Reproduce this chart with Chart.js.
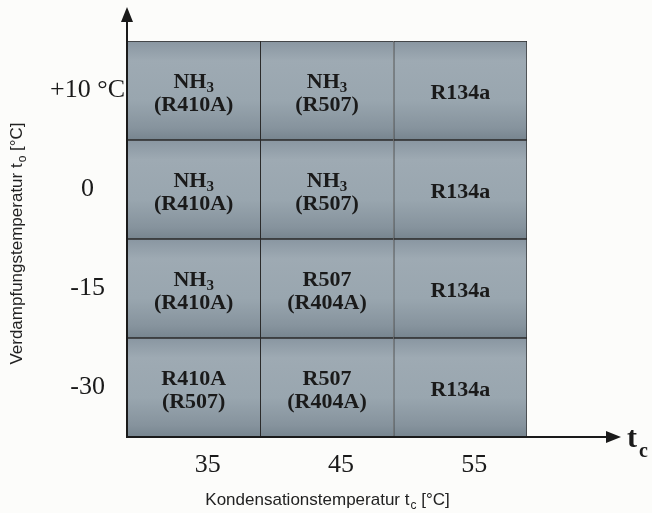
<!DOCTYPE html>
<html>
<head>
<meta charset="utf-8">
<script src="https://cdn.jsdelivr.net/npm/chart.js@4/dist/chart.umd.min.js"></script>
<style>
  html, body { margin: 0; padding: 0; background: #fcfcfa; }
  #wrap { width: 652px; height: 513px; position: relative; }
</style>
</head>
<body>
<div id="wrap"><canvas id="c"></canvas></div>
<script>
// Kondensationstemperatur (x) und Verdampfungstemperatur (y, von unten nach oben)
const tcLabels = ["35", "45", "55"]
const toLabels = ["-30", "-15", "0", "+10 °C"]

// jede Zelle ist genau eine Zeile hoch
const cellSpan = [1, 1, 1]

// Kältemittel je Zeile (unten -> oben), "_" = Index
const rowMain = [
  ["R410A", "R507", "R134a"],
  ["NH_3", "R507", "R134a"],
  ["NH_3", "NH_3", "R134a"],
  ["NH_3", "NH_3", "R134a"]
]
const rowAlt = [
  ["(R507)", "(R404A)", ""],
  ["(R410A)", "(R404A)", ""],
  ["(R410A)", "(R507)", ""],
  ["(R410A)", "(R507)", ""]
]

const INK = "#1a1a1a"
const SERIF = "'Liberation Serif', 'Times New Roman', serif"
const SANS = "'Liberation Sans', Arial, sans-serif"

function cellFill(ctx) {
  const chart = ctx.chart
  const y = chart.scales.y
  if (!y || !chart.chartArea) return "#95a2ac"
  const top = y.getPixelForValue(ctx.datasetIndex + 1)
  const bot = y.getPixelForValue(ctx.datasetIndex)
  const g = chart.ctx.createLinearGradient(0, top, 0, bot)
  g.addColorStop(0, "#8996a1")
  g.addColorStop(0.2, "#9eaab3")
  g.addColorStop(0.6, "#99a6af")
  g.addColorStop(0.88, "#86939d")
  g.addColorStop(1, "#77858f")
  return g
}

// Text mit Index (z.B. NH_3) zentriert zeichnen
function drawSub(c, text, x, y, size, subSize, subDrop) {
  const parts = text.split("_")
  c.font = `bold ${size}px ${SERIF}`
  const w1 = c.measureText(parts[0]).width
  let w2 = 0
  if (parts[1]) {
    c.font = `bold ${subSize}px ${SERIF}`
    w2 = c.measureText(parts[1]).width
  }
  const x0 = x - (w1 + w2) / 2
  c.textAlign = "left"
  c.font = `bold ${size}px ${SERIF}`
  c.fillText(parts[0], x0, y)
  if (parts[1]) {
    c.font = `bold ${subSize}px ${SERIF}`
    c.fillText(parts[1], x0 + w1, y + subDrop)
  }
}

const cellText = {
  id: "cellText",
  afterDatasetsDraw(chart) {
    const c = chart.ctx
    c.save()
    c.fillStyle = INK
    c.textBaseline = "alphabetic"
    chart.data.datasets.forEach((ds, r) => {
      chart.getDatasetMeta(r).data.forEach((bar, i) => {
        const cx = bar.x
        const cy = (bar.y + bar.base) / 2
        const main = rowMain[r][i]
        const alt = rowAlt[r][i]
        if (alt) {
          drawSub(c, main, cx, cy - 3, 22, 15, 4)
          drawSub(c, alt, cx, cy + 20, 22, 15, 4)
        } else {
          drawSub(c, main, cx, cy + 8, 22, 15, 4)
        }
      })
    })
    c.restore()
  }
}

const axesArrows = {
  id: "axesArrows",
  afterDraw(chart) {
    const { left, bottom } = chart.chartArea
    const c = chart.ctx
    c.save()
    c.strokeStyle = INK
    c.fillStyle = INK
    c.lineWidth = 2
    c.beginPath()
    c.moveTo(left, bottom)
    c.lineTo(left, 20)
    c.moveTo(left - 1, bottom)
    c.lineTo(608, bottom)
    c.stroke()
    c.beginPath()
    c.moveTo(left, 7)
    c.lineTo(left - 6, 22)
    c.lineTo(left + 6, 22)
    c.closePath()
    c.fill()
    c.beginPath()
    c.moveTo(621, bottom)
    c.lineTo(606, bottom - 6)
    c.lineTo(606, bottom + 6)
    c.closePath()
    c.fill()

    // t_c am Pfeil
    c.textBaseline = "alphabetic"
    c.textAlign = "left"
    c.font = `bold 30px ${SERIF}`
    c.fillText("t", 627, 447)
    c.font = `bold 20px ${SERIF}`
    c.fillText("c", 639, 457)

    // Achsentitel
    const title = (pre, sub, post) => {
      c.font = `17px ${SANS}`
      const a = c.measureText(pre).width
      const p = c.measureText(post).width
      c.font = `12px ${SANS}`
      const s = c.measureText(sub).width
      return { a, s, w: a + s + p }
    }
    const drawTitle = (pre, sub, post, m) => {
      let x = -m.w / 2
      c.font = `17px ${SANS}`
      c.fillText(pre, x, 0)
      c.font = `12px ${SANS}`
      c.fillText(sub, x + m.a + 1, 4)
      c.font = `17px ${SANS}`
      c.fillText(post, x + m.a + m.s + 1, 0)
    }
    c.fillStyle = "#222"
    const mx = title("Kondensationstemperatur t", "c", " [°C]")
    c.save()
    c.translate(327, 505)
    drawTitle("Kondensationstemperatur t", "c", " [°C]", mx)
    c.restore()
    const my = title("Verdampfungstemperatur t", "o", " [°C]")
    c.save()
    c.translate(22, 244)
    c.rotate(-Math.PI / 2)
    drawTitle("Verdampfungstemperatur t", "o", " [°C]", my)
    c.restore()
    c.restore()
  }
}

new Chart(document.getElementById("c"), {
  type: "bar",
  data: {
    labels: tcLabels,
    datasets: toLabels.map((t, r) => ({
      label: t,
      data: cellSpan,
      backgroundColor: cellFill,
      borderColor: "#2b2b2b",
      borderWidth: (ctx) => ({ top: 1, bottom: 1, left: 1, right: ctx.dataIndex === tcLabels.length - 1 ? 1 : 0 }),
      borderSkipped: false,
      barPercentage: 1,
      categoryPercentage: 1
    }))
  },
  options: {
    responsive: true,
    maintainAspectRatio: false,
    animation: false,
    layout: { padding: { top: 41, right: 125, left: 0, bottom: 0 } },
    plugins: {
      legend: { display: false },
      tooltip: { enabled: false }
    },
    scales: {
      x: {
        type: "category",
        stacked: true,
        grid: { display: false },
        border: { display: false },
        afterFit: (s) => { s.height = 76 },
        ticks: {
          color: INK,
          font: { family: SERIF, size: 26 },
          padding: 5,
          labelOffset: 14,
          maxRotation: 0
        }
      },
      y: {
        type: "linear",
        stacked: true,
        min: 0,
        max: toLabels.length,
        grid: { display: false },
        border: { display: false },
        afterFit: (s) => { s.width = 127 },
        afterBuildTicks: (s) => { s.ticks = toLabels.map((_, i) => ({ value: i + 0.5 })) },
        ticks: {
          color: INK,
          font: { family: SERIF, size: 26 },
          padding: -6,
          crossAlign: "center",
          callback: (v) => toLabels[Math.floor(v)]
        }
      }
    }
  },
  plugins: [cellText, axesArrows]
})
</script>
</body>
</html>
